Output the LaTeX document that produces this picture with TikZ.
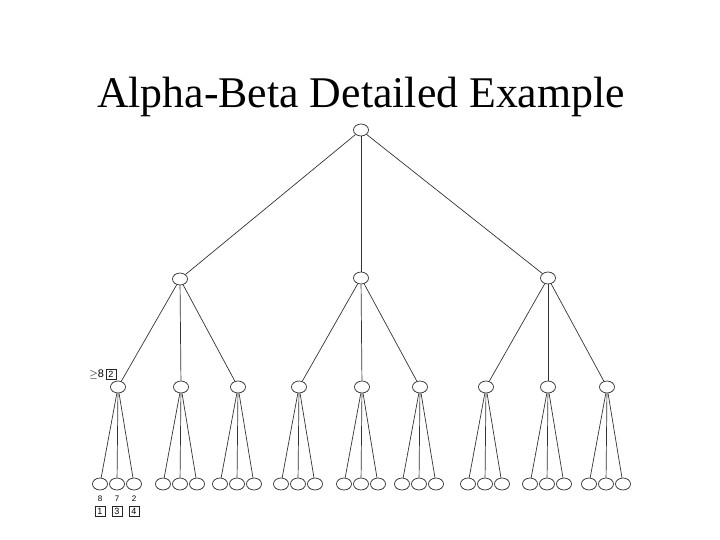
\documentclass[tikz,border=0pt]{standalone}
\usepackage{fontspec}
\setmainfont{Liberation Serif}
\newfontfamily\lblfont{Liberation Sans}
\usetikzlibrary{shapes.geometric, positioning}

\begin{document}
\begin{tikzpicture}[
        x=1pt, y=-1pt,
        choice/.style={ellipse, draw=black!85, fill=white, minimum width=15pt, minimum height=12pt, inner sep=0pt, line width=0.7pt},
        edge/.style={draw=black!80, line width=0.7pt},
        val/.style={font=\lblfont\fontsize{8}{8}\selectfont, inner sep=0pt},
        bound/.style={draw=black!85, line width=0.6pt, font=\lblfont\fontsize{9}{9}\selectfont, inner sep=0pt, minimum size=10pt}
    ]
    \useasboundingbox (0,0) rectangle (720,540);

    \node[font=\fontsize{43.8}{44}\selectfont] (title) at (361,97) {Alpha-Beta Detailed Example};

    % root and first level
    \node[choice] (r) at (361,130) {};
    \node[choice] (a) at (180,279) {};
    \node[choice] (b) at (361,278) {};
    \node[choice] (c) at (548,278) {};
    \draw[edge] (r) -- (a);
    \draw[edge] (r) -- (b);
    \draw[edge] (r) -- (c);

    % second level and leaves
    \foreach \i/\x/\p in {1/118/a, 2/181/a, 3/238/a, 4/299/b, 5/362/b, 6/420/b, 7/486/c, 8/548/c, 9/607/c} {
        \node[choice] (m\i) at (\x,387) {};
        \draw[edge] (\p) -- (m\i);
        \foreach \j/\d in {1/-18, 2/-1, 3/16} {
            \node[choice] (l\i\j) at (\x+\d,484) {};
            \draw[edge] (m\i) -- (l\i\j);
        }
    }

    \node[bound] (bd) at (111,374) {2};
    \node[val, font=\lblfont\fontsize{11}{11}\selectfont, left=1.5pt of bd] (ge) {$\geq$8};

    \node[val, below=5pt of l11] (v11) {8};
    \node[val, below=5pt of l12] (v12) {7};
    \node[val, below=5pt of l13] (v13) {2};
    \node[bound, below=5pt of v11] (b11) {1};
    \node[bound, below=5pt of v12] (b12) {3};
    \node[bound, below=5pt of v13] (b13) {4};

\end{tikzpicture}
\end{document}
